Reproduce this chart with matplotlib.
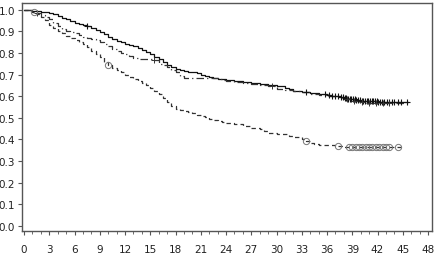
import numpy as np
import matplotlib
matplotlib.use("Agg")
import matplotlib.pyplot as plt
from matplotlib.ticker import MultipleLocator

# survival step data (months, probability)
t_solid = [0, 0.5, 1, 1.5, 2, 2.5, 3, 3.5, 4, 4.5, 5, 5.5, 6, 6.5, 7, 7.5, 8, 8.5, 9, 9.5,
           10, 10.5, 11, 11.5, 12, 12.5, 13, 13.5, 14, 14.5, 15, 15.5, 16, 16.5, 17, 17.5,
           18, 18.5, 19, 19.5, 20, 20.5, 21, 21.5, 22, 22.5, 23, 24, 25, 26, 27, 28, 29,
           30, 31, 31.5, 32, 33, 34, 35, 36, 36.5, 37, 37.5, 38, 38.5, 39, 39.5, 40, 41,
           42, 45.6]
s_solid = [1.0, 0.997, 0.995, 0.992, 0.99, 0.988, 0.985, 0.98, 0.972, 0.963, 0.955, 0.947,
           0.94, 0.935, 0.93, 0.922, 0.913, 0.905, 0.895, 0.885, 0.875, 0.865, 0.855,
           0.848, 0.84, 0.835, 0.83, 0.822, 0.815, 0.805, 0.795, 0.783, 0.77, 0.757,
           0.745, 0.735, 0.725, 0.72, 0.715, 0.712, 0.71, 0.705, 0.70, 0.695, 0.69,
           0.685, 0.68, 0.675, 0.67, 0.665, 0.66, 0.655, 0.65, 0.645, 0.64, 0.632, 0.625,
           0.62, 0.615, 0.61, 0.605, 0.602, 0.60, 0.595, 0.59, 0.587, 0.585, 0.582, 0.58,
           0.578, 0.575, 0.575]

t_dashdot = [0, 0.5, 1, 1.5, 2, 2.5, 3, 3.5, 4, 4.5, 5, 5.5, 6, 6.5, 7, 7.5, 8, 8.5, 9,
             9.5, 10, 10.5, 11, 11.5, 12, 12.5, 13, 13.5, 15.5, 16, 16.5, 17, 17.5, 18,
             18.5, 19, 23, 23.5, 24, 25, 26, 27, 28, 29, 30, 31, 32, 33, 34, 35, 36, 37,
             38, 39, 40, 41, 45.2]
s_dashdot = [1.0, 0.997, 0.99, 0.985, 0.975, 0.965, 0.955, 0.94, 0.925, 0.91, 0.90, 0.895,
             0.89, 0.883, 0.875, 0.87, 0.865, 0.858, 0.85, 0.84, 0.83, 0.82, 0.81, 0.80,
             0.795, 0.785, 0.775, 0.77, 0.765, 0.75, 0.742, 0.735, 0.72, 0.71, 0.695,
             0.685, 0.68, 0.675, 0.67, 0.665, 0.66, 0.655, 0.65, 0.645, 0.635, 0.63, 0.625,
             0.62, 0.61, 0.605, 0.60, 0.595, 0.585, 0.58, 0.575, 0.57, 0.57]

t_dashed = [0, 0.5, 1, 1.5, 2, 2.5, 3, 3.5, 4, 4.5, 5, 5.5, 6, 6.5, 7, 7.5, 8, 8.5, 9, 9.5,
            10, 10.5, 11, 11.5, 12, 12.5, 13, 13.5, 14, 14.5, 15, 15.5, 16, 16.5, 17, 17.5,
            18, 18.5, 19, 19.5, 20, 20.5, 21, 21.5, 22, 22.5, 23, 23.5, 24, 25, 26, 27,
            28, 28.5, 29, 30, 31.5, 32, 33, 33.5, 34, 34.5, 35, 37, 38, 44.8]
s_dashed = [1.0, 0.995, 0.99, 0.98, 0.965, 0.95, 0.93, 0.915, 0.90, 0.89, 0.88, 0.87, 0.86,
            0.85, 0.84, 0.825, 0.81, 0.795, 0.78, 0.76, 0.745, 0.732, 0.72, 0.71, 0.70,
            0.69, 0.68, 0.67, 0.66, 0.65, 0.64, 0.625, 0.61, 0.593, 0.575, 0.555, 0.54,
            0.535, 0.53, 0.525, 0.52, 0.515, 0.51, 0.503, 0.495, 0.49, 0.485, 0.48, 0.475,
            0.47, 0.46, 0.455, 0.45, 0.44, 0.43, 0.425, 0.418, 0.41, 0.40, 0.393, 0.385,
            0.378, 0.375, 0.37, 0.365, 0.365]

# censoring times
c_solid = [7.5, 33.5, 35.8, 36.2, 36.6, 37.0, 37.3, 37.6, 37.9, 38.1, 38.3, 38.5, 38.7,
           38.9, 39.1, 39.3, 39.5, 39.7, 39.9, 40.1, 40.3, 40.5, 40.7, 40.9, 41.1, 41.3,
           41.5, 41.7, 41.9, 42.1, 42.3, 42.5, 42.8, 43.1, 43.4, 43.7, 44.0, 44.4, 44.8,
           45.5]
c_dashdot = [1.5, 15.5, 29.5, 38.4, 39.2, 40.2, 41.0, 41.8, 42.6, 43.4]
c_dashed = [1.2, 10.0, 33.5, 37.3, 38.6, 39.0, 39.4, 39.8, 40.2, 40.6, 41.0, 41.4, 41.8,
            42.2, 42.6, 43.0, 43.4, 44.4]

xticks = np.arange(0, 49, 3)
yticks = np.arange(0, 1.01, 0.1)


def step_at(t, s, c):
    idx = np.searchsorted(t, c, side="right") - 1
    return np.array(s)[idx]


fig = plt.figure(figsize=(4.36, 2.55), dpi=100)
ax = fig.add_axes([0.0505, 0.090, 0.9405, 0.894])

ax.step(t_solid, s_solid, where="post", color="#111111", lw=0.9)
ax.step(t_dashdot, s_dashdot, where="post", color="#333333", lw=0.9, ls=(0, (6, 2.5, 1, 2.5)))
ax.step(t_dashed, s_dashed, where="post", color="#333333", lw=0.9, ls=(0, (3.5, 2.5)))

ax.plot(c_solid, step_at(t_solid, s_solid, c_solid), ls="none", marker="+",
        ms=4, mew=0.8, color="#111111")
ax.plot(c_dashdot, step_at(t_dashdot, s_dashdot, c_dashdot), ls="none", marker="+",
        ms=4, mew=0.7, color="#333333")
ax.plot(c_dashed, step_at(t_dashed, s_dashed, c_dashed), ls="none", marker="o",
        ms=4.5, mew=0.7, mfc="none", mec="#777777")

ax.set_xlim(-0.24, 48.48)
ax.set_ylim(-0.023, 1.03)
ax.set_xticks(xticks)
ax.set_xticklabels([str(v) for v in xticks])
ax.xaxis.set_minor_locator(MultipleLocator(1))
ax.set_yticks(yticks)
ax.set_yticklabels(["%.1f" % v for v in yticks])

for sp in ax.spines.values():
    sp.set_color("#555555")
    sp.set_linewidth(1.0)
ax.tick_params(axis="both", which="major", labelsize=7.5, length=3, width=0.8,
               color="#555555", labelcolor="#222222", pad=2)
ax.tick_params(axis="x", which="major", pad=6)
ax.tick_params(axis="x", which="minor", length=2, width=0.6, color="#555555")

fig.savefig("out.png", dpi=100)
